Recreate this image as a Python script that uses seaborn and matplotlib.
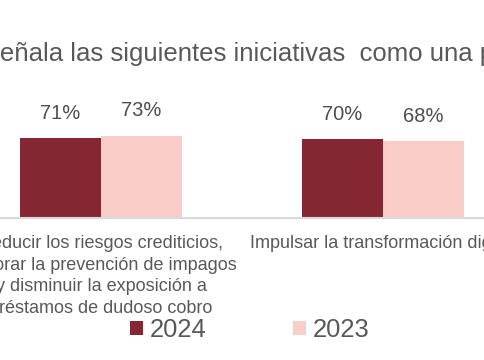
import matplotlib
matplotlib.use("Agg")
import matplotlib.pyplot as plt
import seaborn as sns
import pandas as pd

iniciativas = [
    "Reducir los riesgos crediticios,\nmejorar la prevención de impagos\ny disminuir la exposición a\npréstamos de dudoso cobro",
    "Impulsar la transformación digital",
]
valores_2024 = [71, 70]
valores_2023 = [73, 68]
anios = ["2024", "2023"]
colores = {"2024": "#852633", "2023": "#FACDC9"}

df = pd.DataFrame({
    "iniciativa": iniciativas * 2,
    "pct": valores_2024 + valores_2023,
    "anio": [anios[0]] * 2 + [anios[1]] * 2,
})

sns.set_style("white")
plt.rcParams["font.family"] = ["Liberation Sans", "DejaVu Sans"]

gris = "#595959"

fig = plt.figure(figsize=(4.85, 3.6), dpi=100)
ax = fig.add_axes([0, 0.3944, 1, 0.3139])

sns.barplot(data=df, x="iniciativa", y="pct", hue="anio", hue_order=anios,
            palette=colores, width=0.575, saturation=1, linewidth=0,
            ax=ax, legend=True)

ax.set_xlim(-0.358, 1.362)
ax.set_ylim(0, 100)

for c in ax.containers:
    ax.bar_label(c, fmt="%.0f%%", padding=11, fontsize=14.5, color="#4d4d4d")

ax.set_xlabel("")
ax.set_ylabel("")
ax.set_yticks([])
for s in ["top", "left", "right"]:
    ax.spines[s].set_visible(False)
ax.spines["bottom"].set_color("#D9D9D9")
ax.spines["bottom"].set_linewidth(1.5)
ax.tick_params(axis="x", length=0, pad=12.5, labelsize=13, labelcolor=gris)
for t in ax.get_xticklabels():
    t.set_linespacing(1.35)

sns.move_legend(ax, "center", bbox_to_anchor=(0.515, -0.99), ncol=2,
                frameon=False, title=None, fontsize=18.4,
                handlelength=0.5, handleheight=0.5, handletextpad=0.25,
                columnspacing=3.4, labelcolor=gris)

fig.text(-0.027, 1 - 60.5 / 360, "señala las siguientes iniciativas  como una prioridad",
         ha="left", va="baseline", fontsize=18.5, color=gris)

fig.savefig("out.png", dpi=100)
